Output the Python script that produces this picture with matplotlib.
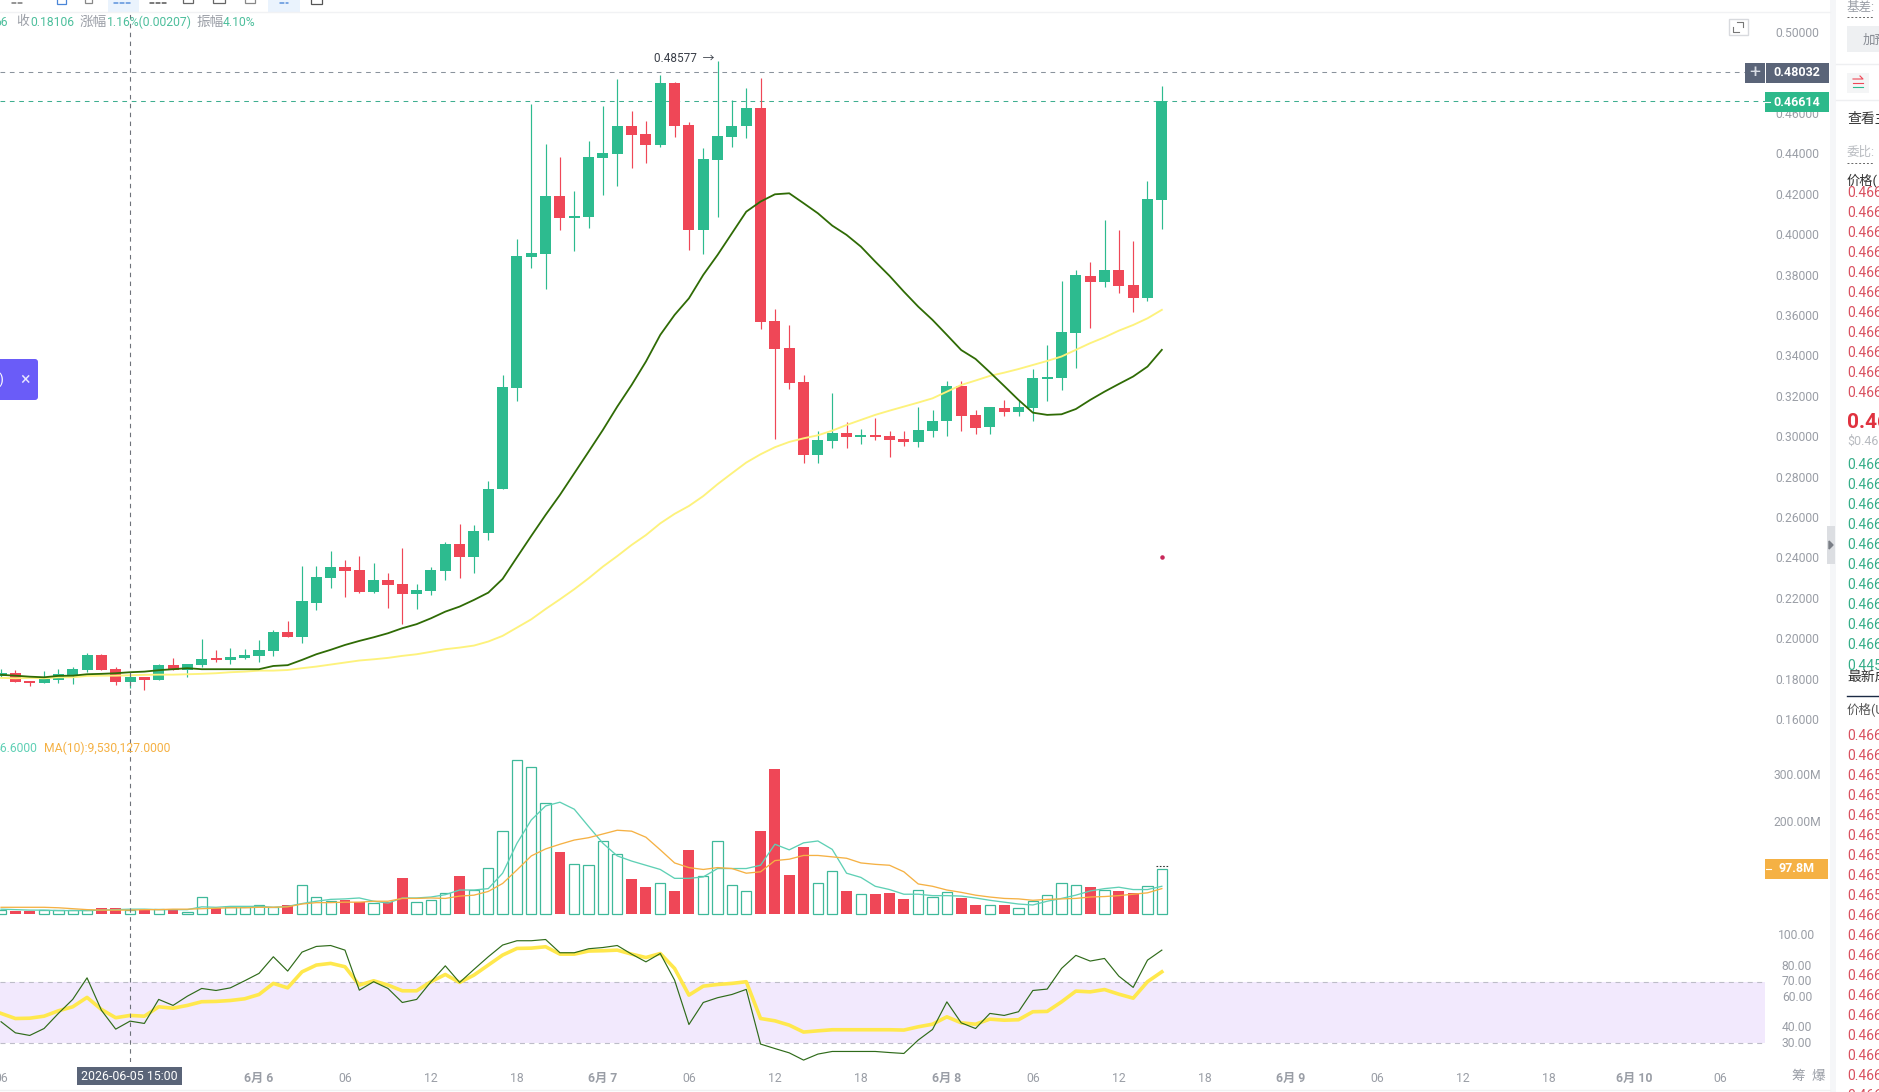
import matplotlib
matplotlib.use("Agg")
import matplotlib.pyplot as plt
from matplotlib.patches import Rectangle, FancyBboxPatch
from matplotlib.transforms import ScaledTranslation
import numpy as np

plt.rcParams['font.family'] = ['Roboto', 'Noto Sans CJK SC', 'DejaVu Sans']

W, H = 1879, 1092

# hourly bars, hours counted from 2026-06-05 00:00
hours = np.arange(6, 88)

opens = [.1814, .1827, .1791, .1781, .1794, .1819, .1843, .1918, .1847, .1786,
         .1809, .1794, .1868, .1843, .1868, .1903, .1893, .1903, .1913, .1938,
         .2032, .2007, .2175, .2299, .2353, .2339, .2230, .2289, .2269, .2220,
         .2235, .2334, .2467, .2403, .2522, .2741, .3241, .3889, .3904, .4190,
         .4083, .4087, .4380, .4399, .4536, .4497, .4442, .4749, .4541, .4022,
         .4368, .4482, .4536, .4625, .3571, .3437, .3269, .2908, .2977, .3017,
         .2997, .3007, .3002, .2987, .2972, .3027, .3076, .3249, .3106, .3046,
         .3140, .3121, .3140, .3284, .3289, .3511, .3793, .3764, .3823, .3749, .3684, .4170]
closes = [.1827, .1786, .1781, .1797, .1822, .1847, .1918, .1843, .1786, .1809,
          .1796, .1868, .1843, .1873, .1898, .1893, .1908, .1918, .1943, .2032,
          .2007, .2185, .2304, .2353, .2334, .2230, .2289, .2264, .2220, .2239,
          .2339, .2467, .2403, .2532, .2739, .3244, .3893, .3906, .4190, .4083,
          .4091, .4383, .4403, .4536, .4492, .4442, .4749, .4536, .4022, .4373,
          .4487, .4536, .4625, .3566, .3433, .3264, .2908, .2982, .3017, .2997,
          .3007, .2997, .2982, .2972, .3031, .3076, .3249, .3101, .3041, .3145,
          .3121, .3145, .3289, .3294, .3516, .3798, .3764, .3823, .3744, .3684, .4174, .46614]
highs = [.1847, .1843, .1791, .1839, .1847, .1857, .1926, .1924, .1860, .1827,
         .1809, .1872, .1901, .1873, .1997, .1943, .1952, .1947, .1992, .2042,
         .2086, .2358, .2358, .2433, .2386, .2405, .2372, .2324, .2447, .2268,
         .2353, .2477, .2566, .2561, .2777, .3304, .3975, .4644, .4446, .4381,
         .4215, .4462, .4637, .4769, .4611, .4561, .4790, .4754, .4558, .4426,
         .48577, .4665, .4724, .4776, .3630, .3550, .3304, .3027, .3215, .3069,
         .3036, .3091, .3028, .3025, .3144, .3131, .3274, .3274, .3131, .3145,
         .3180, .3180, .3333, .3452, .3769, .3823, .3864, .4070, .4021, .3967, .4264, .4734]
lows = [.1807, .1786, .1766, .1781, .1781, .1774, .1832, .1843, .1769, .1753,
        .1745, .1794, .1843, .1807, .1858, .1885, .1873, .1898, .1885, .1913,
        .2007, .1979, .2140, .2248, .2203, .2223, .2226, .2150, .2071, .2144,
        .2215, .2289, .2297, .2322, .2487, .2741, .3177, .3833, .3728, .4022,
        .3916, .4031, .4195, .4238, .4330, .4352, .4432, .4482, .3922, .3903,
        .4084, .4432, .4479, .3531, .2987, .3233, .2870, .2870, .2944, .2942,
        .2962, .2982, .2899, .2954, .2949, .2997, .3002, .3028, .3010, .3012,
        .3098, .3101, .3078, .3175, .3230, .3338, .3537, .3737, .3708, .3613, .3671, .4028]

ma_dark = [.1819, .1815, .1810, .1807, .1814, .1815, .1822, .1824, .1827, .1832,
           .1835, .1842, .1847, .1852, .1847, .1847, .1847, .1847, .1847, .1863,
           .1867, .1893, .1921, .1943, .1967, .1987, .2005, .2025, .2050, .2070,
           .2099, .2132, .2157, .2190, .2226, .2294, .2401, .2507, .2611, .2710,
           .2817, .2924, .3032, .3147, .3254, .3370, .3502, .3601, .3683, .3799,
           .3898, .4005, .4112, .4162, .4198, .4203, .4154, .4104, .4043, .3997,
           .3939, .3865, .3794, .3716, .3642, .3576, .3502, .3427, .3383, .3317,
           .3249, .3180, .3117, .3106, .3109, .3135, .3180, .3221, .3259, .3296, .3345, .3428]
ma_yellow = [.1804, .1802, .1804, .1802, .1807, .1807, .1814, .1815, .1815, .1817,
             .1819, .1820, .1820, .1822, .1824, .1827, .1832, .1835, .1840, .1840,
             .1843, .1852, .1860, .1870, .1880, .1890, .1896, .1903, .1913, .1921,
             .1933, .1946, .1954, .1964, .1984, .2012, .2053, .2094, .2145, .2193,
             .2243, .2297, .2355, .2407, .2462, .2511, .2569, .2616, .2655, .2704,
             .2763, .2817, .2870, .2911, .2946, .2972, .2990, .3005, .3028, .3056,
             .3081, .3106, .3127, .3147, .3167, .3188, .3221, .3254, .3276, .3299,
             .3315, .3333, .3353, .3373, .3395, .3428, .3461, .3490, .3523, .3551, .3584, .3626]

# volume in millions
volume = [9, 7, 7, 9, 9, 9, 9, 13, 13, 9,
          10, 11, 11, 6, 38, 13, 16, 16, 19, 16,
          20, 62, 36, 28, 30, 27, 24, 26, 78, 26,
          30, 46, 82, 51, 100, 178, 330, 315, 238, 133,
          107, 105, 156, 130, 75, 58, 66, 50, 137, 81,
          156, 62, 49, 178, 311, 84, 144, 68, 93, 50,
          43, 43, 45, 33, 51, 37, 48, 35, 20, 20,
          20, 13, 29, 42, 66, 62, 58, 51, 50, 45, 60, 97.8]
vol_ma5 = [11, 10, 9, 9, 8, 8, 8, 9, 10, 11,
           11, 10, 10, 10, 16, 15, 17, 17, 17, 15,
           17, 23, 28, 32, 33, 35, 28, 24, 35, 35,
           37, 42, 52, 52, 55, 88, 152, 202, 232, 240,
           225, 188, 152, 125, 114, 105, 96, 77, 77, 80,
           98, 98, 98, 105, 150, 138, 153, 157, 139, 88,
           79, 60, 53, 43, 43, 40, 40, 39, 35, 30,
           26, 22, 20, 28, 34, 41, 50, 55, 58, 53, 53, 60]
vol_ma10 = [15, 15, 15, 15, 14, 12, 10, 9, 9, 9,
            10, 10, 11, 11, 12, 13, 14, 14, 15, 15,
            16, 22, 25, 25, 26, 26, 28, 28, 34, 34,
            35, 34, 39, 41, 49, 66, 95, 125, 140, 150,
            159, 164, 172, 180, 178, 165, 138, 110, 100, 96,
            100, 98, 88, 91, 115, 118, 126, 126, 123, 120,
            110, 107, 105, 91, 65, 60, 52, 47, 41, 37,
            34, 33, 30, 32, 33, 34, 37, 38, 40, 43, 46, 55]

rsi_fast = [44.0, 36.8, 35.1, 39.6, 49.4, 58.5, 72.5, 51.5, 39.2, 44.4,
            42.9, 58.5, 54.6, 60.6, 65.6, 64.3, 66.0, 70.6, 75.4, 86.2,
            76.9, 89.2, 92.9, 93.5, 90.5, 64.5, 70.0, 65.6, 56.5, 58.5,
            70.0, 80.3, 69.5, 78.0, 86.2, 93.8, 96.6, 96.6, 97.4, 88.8,
            88.8, 91.4, 92.2, 93.5, 87.9, 82.9, 88.3, 71.0, 42.2, 56.5,
            59.6, 61.7, 65.0, 29.5, 26.6, 23.8, 19.1, 23.0, 24.7, 24.7,
            24.7, 24.7, 24.0, 23.4, 32.1, 39.0, 56.9, 43.3, 39.6, 49.4,
            48.1, 50.5, 64.3, 65.2, 78.6, 87.1, 83.4, 85.1, 73.6, 66.3, 84.0, 90.5]
rsi_slow = [49.4, 46.1, 46.3, 47.6, 51.1, 53.7, 59.8, 52.0, 46.6, 48.1,
            47.6, 53.7, 52.8, 54.6, 57.0, 57.2, 57.8, 58.9, 61.7, 68.9,
            66.0, 76.4, 80.8, 81.9, 79.7, 67.8, 70.6, 67.8, 64.1, 64.1,
            70.0, 74.7, 69.5, 74.3, 80.8, 87.3, 91.6, 91.8, 92.7, 87.9,
            87.9, 89.9, 90.1, 90.5, 87.9, 85.7, 88.3, 78.6, 61.3, 67.1,
            68.2, 68.9, 70.0, 46.1, 44.6, 41.8, 37.3, 38.1, 38.8, 38.8,
            38.8, 38.8, 38.8, 38.6, 40.7, 42.4, 47.2, 43.3, 42.4, 45.7,
            45.0, 45.3, 50.5, 50.7, 56.9, 63.9, 63.4, 64.9, 61.9, 59.3, 70.0, 76.4]

price_ticks = [.50, .46, .44, .42, .40, .38, .36, .34, .32, .30, .28, .26, .24, .22, .20, .18, .16]
volume_ticks = [200, 300]
volume_tick_labels = ['200.00M', '300.00M']
rsi_ticks = [30, 40, 60, 70, 80, 100]
time_ticks = list(range(6, 127, 6))
time_labels = ['06', '12', '18', '6月 6', '06', '12', '18', '6月 7', '06', '12', '18', '6月 8',
               '06', '12', '18', '6月 9', '06', '12', '18', '6月 10', '06']

ask_rows = ['0.466'] * 10
bid_rows = ['0.466'] * 10
trade_rows = ['0.466', '0.466', '0.465', '0.465', '0.465', '0.465', '0.465', '0.465', '0.465',
              '0.466', '0.466', '0.466', '0.466', '0.466', '0.466', '0.466', '0.466', '0.466', '0.466']

last_price = 0.46614
cursor_price = 0.48032
peak_price = 0.48577
cursor_hour = 15

GREEN = '#2dbb8f'
RED = '#ef4757'
GREY = '#9a9ea6'
SLATE = '#5a6478'
ORANGE = '#f5b144'
TEAL = '#5fd0b5'

fig = plt.figure(figsize=(W / 100, H / 100), dpi=100, facecolor='white')


def pane(top, bottom):
    return fig.add_axes([0, 1 - bottom / H, 1765 / W, (bottom - top) / H])


ax = pane(12, 730)
ax_vol = pane(730, 930)
ax_rsi = pane(930, 1062)

for a in (ax, ax_vol, ax_rsi):
    a.set_xlim(5.926, 129.09)
    a.set_facecolor('none')
    for s in a.spines.values():
        s.set_visible(False)
    a.yaxis.tick_right()
    a.tick_params(axis='y', length=0, colors=GREY, labelsize=8.7, pad=23)
    a.tick_params(axis='x', length=0)
    a.set_xticks([])
    a.axvline(cursor_hour, color='#6e727a', lw=0.8, ls=(0, (4, 4)), zorder=6)

# price pane
ax.set_ylim(0.1546, 0.51005)
up = np.array(closes) >= np.array(opens)
colors = [GREEN if u else RED for u in up]
ax.vlines(hours, lows, highs, colors=colors, lw=0.85, zorder=2)
ax.bar(hours, np.abs(np.array(closes) - np.array(opens)), bottom=np.minimum(opens, closes),
       width=0.77, color=colors, zorder=3)
ax.plot(hours, ma_yellow, color='#fdf27c', lw=1.35, zorder=4)
ax.plot(hours, ma_dark, color='#2f6b05', lw=1.3, zorder=5)
ax.axhline(cursor_price, color='#8a939c', lw=0.75, ls=(0, (4.5, 4.5)), zorder=1)
ax.axhline(last_price, color='#3fae90', lw=0.75, ls=(0, (4.5, 4.5)), zorder=1)
ax.scatter([87], [0.2402], s=5, color='#c8285a', zorder=5)
ax.annotate(f'{peak_price:.5f}  →', xy=(56, peak_price), xytext=(-2, 2), textcoords='offset points',
            ha='right', va='center', fontsize=8.5, color='#3a3f48')
ax.set_yticks(price_ticks)
ax.set_yticklabels([f'{t:.5f}' for t in price_ticks], ha='center')

# volume pane
ax_vol.set_ylim(-33.6, 394.6)
for h, v, u in zip(hours, volume, up):
    if u:
        ax_vol.bar(h, v, width=0.72, facecolor='white', edgecolor='#3fb99a', lw=0.9, zorder=2)
    else:
        ax_vol.bar(h, v, width=0.76, color=RED, zorder=2)
ax_vol.plot(hours, vol_ma5, color=TEAL, lw=0.95, zorder=4)
ax_vol.plot(hours, vol_ma10, color=ORANGE, lw=0.95, zorder=4)
ax_vol.hlines(102.6, 86.6, 87.4, color='#333333', lw=0.8, ls=(0, (1.5, 1.5)), zorder=4)
ax_vol.set_yticks(volume_ticks)
ax_vol.set_yticklabels(volume_tick_labels, ha='center')

# RSI pane
ax_rsi.set_ylim(17.86, 103.57)
ax_rsi.axhspan(30, 70, color='#f2e9fd', lw=0, zorder=0)
ax_rsi.axhline(70, color='#bdbdc8', lw=0.8, ls=(0, (4.5, 4)), zorder=1)
ax_rsi.axhline(30, color='#bdbdc8', lw=0.8, ls=(0, (4.5, 4)), zorder=1)
ax_rsi.plot(hours, rsi_slow, color='#ffe84d', lw=2.6, zorder=3)
ax_rsi.plot(hours, rsi_fast, color='#2f6b1a', lw=0.85, zorder=4)
ax_rsi.set_yticks(rsi_ticks)
ax_rsi.set_yticklabels([f'{t:.2f}' for t in rsi_ticks], ha='center')
# the oscillator labels sit a touch above their levels
nudge = ScaledTranslation(0, 1.5 / 100, fig.dpi_scale_trans)
for lab in ax_rsi.get_yticklabels():
    lab.set_transform(lab.get_transform() + nudge)
ax_rsi.set_xticks(time_ticks)
ax_rsi.set_xticklabels(time_labels, fontsize=8.8, color=GREY)
ax_rsi.tick_params(axis='x', pad=7)
for lab in ax_rsi.get_xticklabels():
    if '月' in lab.get_text():
        lab.set_fontweight('bold')

# everything around the panes, in pixels
ov = fig.add_axes([0, 0, 1, 1], zorder=10)
ov.set_xlim(0, W)
ov.set_ylim(H, 0)
ov.axis('off')


def box(x0, y0, x1, y1, **kw):
    ov.add_patch(Rectangle((x0, y0), x1 - x0, y1 - y0, **kw))


def label(x, y, s, **kw):
    kw.setdefault('fontsize', 8.7)
    kw.setdefault('va', 'center')
    return ov.text(x, y, s, **kw)


def clipped_label(x, y, s, y0, y1, **kw):
    t = label(x, y, s, **kw)
    t.set_clip_path(Rectangle((x - 5, y0), 60, y1 - y0, transform=ov.transData))
    return t


# toolbar strip
ov.plot([0, 1830], [12, 12], color='#f1f2f4', lw=1)
box(108, 0, 139, 12, fc='#eaf3fd', ec='none')
box(268, 0, 300, 12, fc='#eaf3fd', ec='none')
for x0, x1, c in [(12, 22, '#777777'), (114, 132, '#5b92dc'), (150, 166, '#555555'), (280, 288, '#5b92dc')]:
    ov.plot([x0, x1], [3, 3], color=c, lw=1.1, dash_capstyle='round', ls=(0, (2.5, 1.5)))
box(57, -4, 66, 4, fc='none', ec='#4a86d8', lw=0.9)
box(85, -4, 92, 3, fc='none', ec='#888888', lw=0.9)
box(183, -4, 193, 3, fc='none', ec='#666666', lw=0.9)
box(213, -4, 225, 3, fc='none', ec='#666666', lw=0.9)
box(245, -4, 255, 3, fc='none', ec='#888888', lw=0.9)
box(311, -4, 322, 4, fc='none', ec='#555555', lw=0.9)

# OHLC readout
label(8, 22, '66', ha='right', color='#4dbf9c')
label(16, 22, '收', color=GREY, fontsize=9.2)
label(30, 22, '0.18106', color='#4dbf9c')
label(80, 22, '涨幅', color=GREY, fontsize=9.8)
label(107, 22, '1.16%(0.00207)', color='#4dbf9c')
label(197, 22, '振幅', color=GREY, fontsize=9.8)
label(223, 22, '4.10%', color='#4dbf9c')

# volume readout
label(37, 748.5, '56.6000', ha='right', color=TEAL)
label(44, 748.5, 'MA(10):9,530,127.0000', color=ORANGE)

# promo button cut off by the left edge
ov.add_patch(FancyBboxPatch((-20, 359), 58, 41, boxstyle='round,pad=0,rounding_size=3', fc='#6a5cf8', ec='none'))
label(25, 380, '×', color='#e8e6ff', ha='center', fontsize=13)
label(1, 380, ')', color='white', ha='center', fontsize=10)

# expand icon
box(1729.5, 18.5, 1748, 35, fc='white', ec='#d8dade', lw=1)
ov.plot([1737, 1743, 1743], [22, 22, 27], color='#777777', lw=0.8)
ov.plot([1733, 1733, 1739], [27, 32, 32], color='#777777', lw=0.8)

# price and volume tags
box(1745, 63, 1765, 83, fc=SLATE, ec='none')
label(1755, 72.5, '+', color='#d8dce4', ha='center', fontsize=14)
box(1766, 63, 1829, 83, fc=SLATE, ec='none')
label(1797, 73, f'{cursor_price:.5f}', color='white', ha='center', fontweight='bold', fontsize=9)
box(1765, 92, 1829, 112, fc='#2db98b', ec='none')
label(1797, 102, f'{last_price:.5f}', color='white', ha='center', fontweight='bold', fontsize=9)
ov.plot([1765, 1770], [102, 102], color='white', lw=0.8)
box(1765, 859, 1828, 879, fc=ORANGE, ec='none')
label(1797, 869, f'{volume[-1]}M', color='white', ha='center', fontweight='bold', fontsize=9)
ov.plot([1766, 1771], [869, 869], color='white', lw=0.8)

# cursor time tag
box(77, 1067, 182, 1085, fc=SLATE, ec='none')
label(129.5, 1076, '2026-06-05 15:00', color='white', ha='center', fontsize=8.9)

# side panel, cut off by the right edge
box(1830, 0, 1836, H, fc='#f5f6f8', ec='none')
box(1827, 526, 1835, 564, fc='#dcdee2', ec='none')
ov.fill([1829, 1833, 1829], [541, 545, 549], color='#7a7e86')
ov.plot([1836, W], [64, 64], color='#eeeff1', lw=1)
ov.plot([1836, W], [100, 100], color='#eeeff1', lw=1)
ov.plot([0, 1830], [1090, 1090], color='#f0f1f3', lw=1)
label(1847, 7, '基差:', color=GREY, fontsize=9)
ov.plot([1847, 1874], [17, 17], color='#666666', lw=0.7, ls=(0, (2, 2)))
box(1847, 26, 1880, 52, fc='#eef0f2', ec='none')
label(1863, 40, '加预', color='#888c94', fontsize=9)
box(1847, 73, 1869, 93, fc='#f4f5f6', ec='none')
ov.plot([1853, 1863, 1860], [79, 79, 76], color=RED, lw=0.8)
ov.plot([1853, 1863], [83, 83], color=RED, lw=0.8)
ov.plot([1853, 1863], [87, 87], color=GREEN, lw=0.8)
label(1847, 119, '查看主', color='#333333', fontsize=10)
label(1847, 152, '委比:', color='#b8bbc0', fontsize=9)
ov.plot([1847, 1874], [163, 163], color='#666666', lw=0.7, ls=(0, (2, 2)))
label(1847, 181, '价格(', color='#333333', fontsize=9.5)
clipped_label(1847, 193, '0.466', 190, 200, color='#d9505f', fontsize=10)
for i, s in enumerate(ask_rows):
    label(1847, 213 + 20 * i, s, color='#d9505f', fontsize=10)
label(1847, 422, '0.46', color='#e0323f', fontsize=15, fontweight='bold')
label(1847, 441, '$0.46', color='#b8bbc0', fontsize=9)
for i, s in enumerate(bid_rows):
    label(1847, 465 + 20 * i, s, color='#35ae88', fontsize=10)
clipped_label(1847, 666, '0.445', 650, 663, color='#35ae88', fontsize=10)
label(1847, 677, '最新成', color='#333333', fontsize=10)
ov.plot([1847, W], [696, 696], color='#1b2a44', lw=1)
label(1847, 710, '价格(U', color='#555555', fontsize=9)
for i, s in enumerate(trade_rows):
    label(1847, 735.5 + 20 * i, s, color='#d9505f', fontsize=10)
label(1798, 1076, '筹', color=GREY, ha='center', fontsize=9.8)
label(1818, 1076, '爆', color=GREY, ha='center', fontsize=9.8)

fig.savefig('out.png', dpi=100)
